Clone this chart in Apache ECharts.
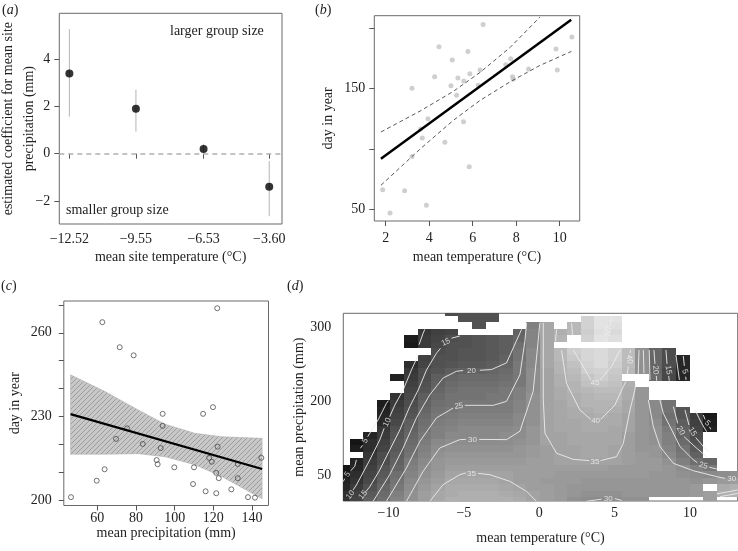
<!DOCTYPE html>
<html><head><meta charset="utf-8">
<script src="https://cdn.jsdelivr.net/npm/echarts@6/dist/echarts.min.js"></script>
<style>html,body{margin:0;padding:0;background:#fff}#c{width:738px;height:551px}</style>
</head><body><div id="c"></div><script>
// ---------- panel (a) ----------
const aX = [-12.52, -9.55, -6.53, -3.60];
const aY = [3.4, 1.9, 0.2, -1.4];
const aLo = [1.57, 0.94, 0.0, -2.65];
const aHi = [5.28, 2.71, 0.42, -0.31];
const aYTicks = [-2, 0, 2, 4];
// ---------- panel (b) ----------
const bX = [6.48, 4.45, 5.78, 5.06, 4.25, 5.87, 6.34, 5.32, 5.59, 5.00, 3.21, 5.26, 6.25, 7.52, 7.75, 8.57, 7.83, 7.87, 9.83, 10.56, 9.89, 3.94, 3.61, 3.68, 5.58, 4.72, 3.21, 5.84, 1.86, 2.87, 3.87, 2.20];
const bY = [203.5, 185, 181, 174, 160, 162.5, 165.5, 159, 156.5, 152.5, 150.5, 144.5, 153, 170, 175, 166.5, 160, 158, 183, 193, 165.5, 125, 116.5, 109, 122.5, 105.5, 93.5, 85, 66, 65, 53, 46.5];
const bFitX = [1.78, 10.53];
const bFitY = [91.8, 207.4];
const bUpX = [1.78, 3.58, 5.11, 6.34, 7.72, 9.09];
const bUpY = [114.0, 131.4, 147.8, 163.6, 184.4, 209.6];
const bLoX = [1.78, 3.58, 5.11, 6.34, 7.72, 9.09, 10.54];
const bLoY = [69.6, 99.8, 123.7, 140.3, 155.8, 169.4, 181.1];
const bXTicks = [2, 4, 6, 8, 10];
const bYTicks = [50, 100, 150, 200];
const bYLabels = [50, 150];
// ---------- panel (c) ----------
const cX = [46.4, 62.6, 71.6, 78.8, 59.7, 63.8, 69.7, 75.4, 83.5, 93.8, 93.8, 92.8, 90.7, 91.2, 99.8, 110.0, 109.5, 116.0, 114.7, 119.8, 122.0, 122.2, 117.8, 119.2, 121.5, 122.8, 121.5, 129.3, 132.6, 132.6, 137.9, 141.5, 144.8];
const cY = [201.0, 263.8, 254.8, 251.9, 206.9, 211.0, 221.9, 225.7, 220.1, 230.9, 226.6, 218.6, 214.3, 212.8, 211.7, 211.7, 205.7, 203.1, 230.9, 233.3, 268.8, 219.1, 215.1, 213.7, 209.7, 207.8, 202.4, 203.8, 207.8, 212.9, 201.0, 200.8, 215.1];
const cFitX = [46.2, 145.2];
const cFitY = [230.8, 211.1];
const cBandX = [46.2, 64.0, 81.2, 95.0, 110.5, 124.3, 145.2];
const cBandHi = [244.9, 238.9, 232.3, 227.2, 223.9, 222.7, 222.1];
const cBandLo = [216.4, 216.4, 216.6, 215.5, 212.6, 208.4, 200.4];
const cXTicks = [60, 80, 100, 120, 140];
const cYTicks = [200, 210, 220, 230, 240, 250, 260, 270];
const cYLabels = [200, 230, 260];
// ---------- panel (d) ----------
const dTemps = [-13.02, -12.12, -11.22, -10.32, -9.42, -8.51, -7.61, -6.71, -5.81, -4.91, -4.00, -3.10, -2.20, -1.30, -0.40, 0.51, 1.41, 2.31, 3.21, 4.11, 5.02, 5.92, 6.82, 7.72, 8.62, 9.53, 10.43, 11.33, 12.23, 13.13];
// row centres (precipitation axis position), bottom to top
const dPrecipPos = [-1.00, -0.74, -0.47, -0.21, 0.05, 0.31, 0.57, 0.84, 1.10, 1.36, 1.62, 1.88, 2.15, 2.41, 2.67, 2.93, 3.20, 3.46, 3.72, 3.98, 4.24, 4.51, 4.77, 5.03, 5.29, 5.55, 5.82, 6.08, 6.34, 6.60];
// predicted values per cell, rows from top to bottom; "--" = no data
const dRows = [
"-- -- -- -- -- -- -- -- 15 16 16 16 -- -- -- -- -- -- -- -- -- -- -- -- -- -- -- -- -- --",
"-- -- -- -- -- -- -- -- -- 16 16 16 -- -- -- -- -- -- 46 50 50 -- -- -- -- -- -- -- -- --",
"-- -- -- -- -- -- -- -- -- -- 16 -- -- -- 27 36 -- 40 46 50 49 -- -- -- -- -- -- -- -- --",
"-- -- -- -- -- -- 10 12 13 -- -- -- -- 20 28 36 38 40 45 49 48 -- -- -- -- -- -- -- -- --",
"-- -- -- -- -- 4 11 13 15 16 17 18 19 21 28 36 39 -- 46 50 49 -- -- -- -- -- -- -- -- --",
"-- -- -- -- -- 3 11 14 16 16 17 18 19 23 28 36 -- -- -- -- -- -- -- -- -- -- -- -- -- --",
"-- -- -- -- -- -- -- 15 16 17 17 18 19 24 29 36 40 45 47 48 46 41 31 21 15 -- -- -- -- --",
"-- -- -- -- -- -- 12 16 16 17 17 18 20 24 29 36 40 44 47 48 46 41 31 21 15 6 -- -- -- --",
"-- -- -- -- -- 8 13 16 17 18 18 19 21 25 29 36 39 42 46 48 45 41 31 21 15 6 -- -- -- --",
"-- -- -- -- -- 10 15 17 19 20 20 21 22 25 30 35 39 41 45 46 44 40 31 21 14 6 -- -- -- --",
"-- -- -- -- 5 11 15 19 21 22 22 22 23 25 30 35 38 40 43 45 43 -- -- 22 14 6 -- -- -- --",
"-- -- -- -- -- 12 16 20 22 23 23 23 24 25 30 35 38 39 42 43 42 38 -- -- -- -- -- -- -- --",
"-- -- -- -- -- 13 17 21 23 24 24 24 25 27 30 35 37 39 40 41 41 37 32 -- -- -- -- -- -- --",
"-- -- -- -- 9 14 19 22 24 24 24 25 25 27 31 35 37 38 39 40 40 37 32 -- -- -- -- -- -- --",
"-- -- -- 4 11 15 20 23 24 25 25 25 26 28 31 35 36 38 39 39 39 36 32 29 24 -- -- -- -- --",
"-- -- -- 5 12 16 21 24 25 26 26 26 26 28 31 35 36 37 38 39 38 36 32 29 24 17 -- -- -- --",
"-- -- -- 6 13 17 22 25 26 27 27 27 27 29 31 35 36 37 37 38 37 35 32 29 23 17 11 3 -- --",
"-- -- -- 7 14 19 23 26 27 28 28 28 28 29 31 35 36 36 37 37 37 35 32 30 24 19 12 4 -- --",
"-- -- -- 10 16 20 24 27 28 29 29 29 29 30 32 35 36 36 37 37 36 35 32 31 26 20 13 5 -- --",
"-- -- 6 11 17 21 25 27 29 29 29 29 30 30 32 35 35 36 36 36 36 34 32 31 27 21 15 -- -- --",
"-- 2 8 12 18 22 26 29 30 30 30 30 30 31 32 35 35 36 36 36 36 34 32 31 27 22 16 -- -- --",
"-- 4 8 13 18 23 27 30 31 31 31 31 31 32 33 34 35 35 36 36 35 34 32 32 28 24 18 -- -- --",
"-- -- 10 15 19 24 28 31 32 32 32 32 32 32 33 34 35 35 36 36 35 34 33 32 29 25 20 -- -- --",
"-- 5 11 15 20 26 29 32 33 33 33 33 33 33 34 34 35 35 35 35 35 34 33 33 31 27 23 21 -- --",
"2 6 12 17 21 27 30 32 34 34 34 34 34 34 34 34 34 34 34 34 33 33 33 33 32 30 27 25 -- --",
"4 8 13 18 23 28 31 33 35 35 35 35 35 34 34 34 33 33 33 33 33 33 33 32 32 31 30 29 30 31",
"5 9 14 19 24 29 32 34 36 36 36 36 35 34 34 33 33 33 32 32 32 32 32 32 32 32 31 32 33 34",
"6 11 16 21 25 30 33 35 37 37 37 37 36 35 34 34 33 32 32 32 32 32 32 32 32 32 33 -- 37 38",
"8 12 18 22 27 31 34 36 37 38 38 38 37 36 35 34 33 32 31 31 31 32 32 32 32 32 33 34 38 39",
"9 13 19 23 28 31 34 36 38 38 38 38 38 37 35 34 33 31 30 29 30 31 31 -- -- -- -- 34 -- --"
];
const dXTicks = [-10, -5, 0, 5, 10];
const dYTickPos = [0, 1, 2, 3, 4, 5, 6];
const dYLabelPos = [0, 3, 6];
const dYLabelText = ['50', '200', '300'];
// contour line pieces [temperature, precipitation position]
const dContours = [
 [[-13.01,-0.24],[-12.90,-0.12]],
 [[-12.50,0.20],[-12.24,0.38],[-12.13,0.64]],
 [[-11.86,1.11],[-11.73,1.23]],
 [[-11.38,1.58],[-11.24,1.72],[-10.69,2.26],[-10.14,2.93],[-10.00,3.04]],
 [[-12.35,-0.58],[-12.13,-0.38],[-11.24,0.64],[-10.58,1.45],[-10.29,1.92]],
 [[-9.92,2.39],[-9.58,2.86],[-9.03,3.47],[-8.48,4.28],[-8.03,4.89]],
 [[-7.97,5.31],[-7.70,5.78],[-7.59,5.93]],
 [[-11.51,-0.65],[-11.24,-0.45],[-10.58,0.23],[-9.92,1.04],[-9.25,1.85],[-8.59,2.80],[-8.03,3.47],[-7.48,4.28],[-6.82,4.96],[-6.55,5.16]],
 [[-5.82,5.57],[-5.27,5.66]],
 [[-11.02,-1.04],[-9.92,0.04],[-9.03,1.12],[-8.15,2.34],[-7.26,3.28],[-6.37,3.96],[-5.49,4.23],[-5.05,4.26]],
 [[-3.94,4.27],[-3.17,4.30],[-2.17,4.57],[-1.28,5.78],[-1.17,5.93]],
 [[-10.14,-1.04],[-8.81,0.31],[-7.92,1.39],[-6.82,2.34],[-5.71,2.74]],
 [[-4.94,2.85],[-3.05,2.85],[-2.17,3.01],[-1.28,4.09],[-0.95,5.45],[-0.84,6.19]],
 [[-8.81,-1.04],[-7.70,0.18],[-6.60,1.12],[-5.27,1.46],[-4.87,1.47]],
 [[-3.98,1.47],[-2.17,1.46],[-1.28,1.80],[-0.40,3.42],[-0.07,5.45],[0.04,6.19]],
 [[-7.26,-1.04],[-6.37,-0.36],[-5.27,0.04],[-4.87,0.11]],
 [[-4.05,0.09],[-3.28,0.04],[-1.95,-0.23],[-0.84,-0.64],[-0.18,-1.04]],
 [[0.27,6.19],[0.27,3.07],[0.38,1.72],[1.15,0.91],[2.26,0.66],[3.32,0.61]],
 [[4.07,0.61],[5.13,0.77],[5.58,1.31],[6.02,2.66],[6.35,3.47],[6.40,3.72]],
 [[6.57,4.12],[6.62,5.09]],
 [[1.48,5.09],[1.81,3.74],[2.70,2.66],[3.43,2.28]],
 [[4.07,2.28],[5.02,2.86],[5.58,3.61],[5.75,3.82]],
 [[5.84,4.12],[5.91,4.42]],
 [[6.02,4.96],[6.06,5.09]],
 [[2.26,5.09],[2.92,4.42],[3.43,3.88]],
 [[4.03,3.88],[4.80,4.42],[5.36,5.09]],
 [[1.15,5.92],[1.08,5.45]],
 [[2.15,6.18],[2.21,5.70]],
 [[4.80,6.45],[4.69,6.04]],
 [[4.47,5.61],[4.43,5.45]],
 [[6.91,5.09],[6.95,4.15]],
 [[7.30,5.09],[7.35,3.88]],
 [[7.61,5.09],[7.68,4.53]], [[7.77,4.04],[7.79,3.85]],
 [[8.41,5.09],[8.48,4.53]], [[8.59,4.04],[8.63,3.85]],
 [[9.07,4.89],[9.30,3.88]],
 [[9.56,4.85],[9.63,4.45]], [[9.72,4.01],[9.74,3.88]],
 [[7.24,3.07],[7.57,1.99],[8.01,1.18],[8.90,0.50],[10.23,0.20],[11.78,-0.04],[12.33,-0.11]],
 [[8.01,3.07],[8.23,2.53],[8.68,1.99],[9.34,1.18],[10.23,0.64],[10.49,0.53]],
 [[11.29,0.34],[11.78,0.27]],
 [[8.90,2.80],[9.19,2.12]], [[9.61,1.58],[10.45,1.11],[11.11,0.77]],
 [[9.67,2.66],[9.94,2.05]], [[10.38,1.55],[10.89,1.18],[11.22,0.97]],
 [[10.34,2.66],[10.78,2.12],[11.11,1.78]],
 [[10.89,2.46],[11.00,2.28]], [[11.30,1.98],[11.38,1.88]],
 [[11.78,-0.74],[13.17,-0.58]],
 [[12.00,-0.85],[13.17,-0.72]],
 [[3.14,-1.04],[4.14,-0.95]], [[5.02,-0.93],[5.47,-1.00]]
];
const dLabX = [-12.72, -12.53, -11.69, -11.55, -10.09, -6.20, -4.49, -5.33, -4.43, -4.49, 3.70, 3.74, 3.70, 4.58, 5.98, 7.72, 8.57, 9.67, 11.16, 10.16, 9.38, 10.89, 12.77, 4.58];
const dLabPos = [0.05, -0.78, -0.78, 1.42, 2.16, 5.41, 4.26, 2.82, 1.47, 0.09, 3.77, 2.23, 0.58, 5.84, 4.72, 4.28, 4.28, 4.22, 2.12, 1.78, 1.82, 0.41, -0.12, -0.95];
const dLabText = ['5','10','15','5','10','15','20','25','30','35','45','40','35','50','40','20','15','5','5','15','20','25','30','30'];
const dLabRot = [55, 50, 50, 60, 65, 25, 0, 5, 0, 0, 0, 0, 0, 75, -85, -85, -80, -70, -45, -60, -60, -15, 0, 0];

// ---------- build ----------
const FONT = 'Liberation Serif';
const minus = v => (v < 0 ? '\u2212' + Math.abs(v) : String(v));
function edges(c) {
  const e = [c[0] - (c[1] - c[0]) / 2];
  for (let i = 1; i < c.length; i++) e.push((c[i - 1] + c[i]) / 2);
  e.push(c[c.length - 1] + (c[c.length - 1] - c[c.length - 2]) / 2);
  return e;
}
const xE = edges(dTemps), yE = edges(dPrecipPos);
const dHeat = [];
dRows.forEach((row, r) => {
  const i = dRows.length - 1 - r;
  row.trim().split(/\s+/).slice(0, dTemps.length).forEach((t, k) => {
    if (t !== '--') dHeat.push([dTemps[k], dPrecipPos[i], +t, k, i]);
  });
});

function hatch() {
  const c = document.createElement('canvas'); c.width = c.height = 5;
  const g = c.getContext('2d');
  g.fillStyle = '#c8c8c8'; g.fillRect(0, 0, 5, 5);
  g.strokeStyle = '#9d9d9d'; g.lineWidth = 1;
  g.beginPath();
  g.moveTo(0, 5); g.lineTo(5, 0);
  g.moveTo(-2.5, 2.5); g.lineTo(2.5, -2.5);
  g.moveTo(2.5, 7.5); g.lineTo(7.5, 2.5);
  g.stroke();
  return c;
}
const PATTERN = { image: hatch(), repeat: 'repeat' };

function axis(o) {
  const base = {
    type: 'value', nameLocation: 'middle', nameMoveOverlap: false,
    axisLine: { show: false }, splitLine: { show: false },
    axisTick: { show: true, length: 5, lineStyle: { color: '#555' } },
    axisLabel: { color: '#222', fontFamily: FONT, fontSize: 14 },
    nameTextStyle: { color: '#222', fontFamily: FONT, fontSize: 14 }
  };
  const r = Object.assign({}, base, o);
  r.axisTick = Object.assign({}, base.axisTick, o.axisTick || {});
  r.axisLabel = Object.assign({}, base.axisLabel, o.axisLabel || {});
  r.nameTextStyle = Object.assign({}, base.nameTextStyle, o.nameTextStyle || {});
  return r;
}
const box = { show: true, borderColor: '#6a6a6a', borderWidth: 1, backgroundColor: 'transparent', containLabel: false, outerBoundsMode: 'none' };
const rich = ch => ({ text: '{p|(}{i|' + ch + '}{p|)}', rich: { p: { fontFamily: FONT, fontSize: 14, fill: '#222' }, i: { fontFamily: FONT, fontSize: 14, fontStyle: 'italic', fill: '#222' } } });

const option = {
  animation: false,
  backgroundColor: '#fff',
  grid: [
    Object.assign({ left: 59.3, top: 13.3, width: 222.7, height: 210.7 }, box),
    Object.assign({ left: 374.3, top: 15.7, width: 205.4, height: 205.3 }, box),
    Object.assign({ left: 63.8, top: 301, width: 204.7, height: 204.5 }, box),
    Object.assign({ left: 343.3, top: 313.3, width: 394.4, height: 187.7 }, box)
  ],
  xAxis: [
    axis({ gridIndex: 0, min: -12.97, max: -3.03, name: 'mean site temperature (°C)', nameGap: 26,
      axisTick: { customValues: aX }, axisLabel: { customValues: aX, margin: 8, formatter: v => '\u2212' + Math.abs(v).toFixed(2) } }),
    axis({ gridIndex: 1, min: 1.476, max: 10.92, name: 'mean temperature (°C)', nameGap: 29,
      axisTick: { customValues: bXTicks }, axisLabel: { customValues: bXTicks, margin: 10 } }),
    axis({ gridIndex: 2, min: 42.7, max: 148.5, name: 'mean precipitation (mm)', nameGap: 21,
      axisTick: { customValues: cXTicks }, axisLabel: { customValues: cXTicks, margin: 6 } }),
    axis({ gridIndex: 3, min: -13.0, max: 13.17, name: 'mean temperature (°C)', nameGap: 30,
      axisTick: { customValues: dXTicks }, axisLabel: { customValues: dXTicks, margin: 5, formatter: minus } })
  ],
  yAxis: [
    axis({ gridIndex: 0, min: -2.98, max: 5.95, name: 'estimated coefficient for mean site\nprecipitation (mm)', nameGap: 19,
      nameTextStyle: { lineHeight: 21 },
      axisTick: { customValues: aYTicks }, axisLabel: { customValues: aYTicks, margin: 9, formatter: minus } }),
    axis({ gridIndex: 1, min: 39.9, max: 210.8, name: 'day in year', nameGap: 39,
      axisTick: { customValues: bYTicks }, axisLabel: { customValues: bYLabels, margin: 9 } }),
    axis({ gridIndex: 2, min: 198.0, max: 271.4, name: 'day in year', nameGap: 41,
      axisTick: { customValues: cYTicks }, axisLabel: { customValues: cYLabels, margin: 12 } }),
    axis({ gridIndex: 3, min: -1.027, max: 6.58, name: 'mean precipitation (mm)', nameGap: 37,
      axisTick: { customValues: dYTickPos },
      axisLabel: { customValues: dYLabelPos, margin: 12, formatter: v => dYLabelText[dYLabelPos.indexOf(Math.round(v))] } })
  ],
  series: [
    { type: 'custom', xAxisIndex: 0, yAxisIndex: 0, silent: true,
      data: aX.map((x, i) => [x, aLo[i], aHi[i]]), encode: { x: 0, y: [1, 2] },
      renderItem: (p, api) => {
        const a = api.coord([api.value(0), api.value(1)]), b = api.coord([api.value(0), api.value(2)]);
        return { type: 'line', shape: { x1: a[0], y1: a[1], x2: b[0], y2: b[1] }, style: { stroke: '#b4b4b4', lineWidth: 1 } };
      } },
    { type: 'scatter', xAxisIndex: 0, yAxisIndex: 0, symbolSize: 8, itemStyle: { color: '#000' },
      data: aX.map((x, i) => [x, aY[i]]), z: 3,
      markLine: { silent: true, symbol: ['none', 'none'], label: { show: false },
        lineStyle: { type: [5, 4], color: '#b0b0b0', width: 1.5 }, data: [{ yAxis: 0 }] } },
    { type: 'scatter', xAxisIndex: 1, yAxisIndex: 1, symbolSize: 5, itemStyle: { color: '#c3c3c3' },
      data: bX.map((x, i) => [x, bY[i]]) },
    { type: 'line', xAxisIndex: 1, yAxisIndex: 1, symbol: 'none', lineStyle: { color: '#000', width: 2.5 },
      data: bFitX.map((x, i) => [x, bFitY[i]]), z: 4 },
    { type: 'line', xAxisIndex: 1, yAxisIndex: 1, symbol: 'none', lineStyle: { color: '#444', width: 0.9, type: [4, 3] },
      data: bUpX.map((x, i) => [x, bUpY[i]]), z: 3 },
    { type: 'line', xAxisIndex: 1, yAxisIndex: 1, symbol: 'none', lineStyle: { color: '#444', width: 0.9, type: [4, 3] },
      data: bLoX.map((x, i) => [x, bLoY[i]]), z: 3 },
    { type: 'custom', xAxisIndex: 2, yAxisIndex: 2, silent: true, z: 1,
      data: [[cBandX[0], cBandLo[0]]], encode: { x: 0, y: 1 },
      renderItem: (p, api) => {
        const pts = [];
        cBandX.forEach((x, i) => pts.push(api.coord([x, cBandHi[i]])));
        for (let i = cBandX.length - 1; i >= 0; i--) pts.push(api.coord([cBandX[i], cBandLo[i]]));
        return { type: 'polygon', shape: { points: pts }, style: { fill: PATTERN, stroke: '#aaa', lineWidth: 0.5 } };
      } },
    { type: 'scatter', xAxisIndex: 2, yAxisIndex: 2, symbol: 'circle', symbolSize: 5, z: 3,
      itemStyle: { color: 'rgba(255,255,255,0)', borderColor: '#3c3c3c', borderWidth: 0.9 },
      data: cX.map((x, i) => [x, cY[i]]) },
    { type: 'line', xAxisIndex: 2, yAxisIndex: 2, symbol: 'none', z: 4, lineStyle: { color: '#000', width: 2.2 },
      data: cFitX.map((x, i) => [x, cFitY[i]]) },
    { type: 'custom', xAxisIndex: 3, yAxisIndex: 3, silent: true, z: 1,
      data: dHeat, encode: { x: 0, y: 1 },
      renderItem: (p, api) => {
        const k = api.value(3), i = api.value(4), v = api.value(2);
        const a = api.coord([xE[k], yE[i + 1]]), b = api.coord([xE[k + 1], yE[i]]);
        const cs = p.coordSys;
        const x0 = Math.round(Math.max(Math.min(a[0], b[0]), cs.x));
        const x1 = Math.round(Math.min(Math.max(a[0], b[0]), cs.x + cs.width));
        const y0 = Math.round(Math.max(Math.min(a[1], b[1]), cs.y));
        const y1 = Math.round(Math.min(Math.max(a[1], b[1]), cs.y + cs.height));
        const g = Math.max(0, Math.min(255, Math.round(12 + 4.3 * v)));
        return { type: 'rect', shape: { x: x0, y: y0, width: x1 - x0, height: y1 - y0 },
          style: { fill: 'rgb(' + g + ',' + g + ',' + g + ')' } };
      } }
  ].concat(dContours.map(seg => ({
    type: 'line', xAxisIndex: 3, yAxisIndex: 3, symbol: 'none', silent: true, z: 3,
    lineStyle: { color: '#ececec', width: 0.9 }, data: seg
  }))).concat([
    { type: 'scatter', xAxisIndex: 3, yAxisIndex: 3, symbolSize: 0, silent: true, z: 4,
      label: { show: true, position: 'inside', color: '#f4f4f4', fontSize: 8, fontFamily: 'Liberation Sans' },
      data: dLabX.map((x, i) => ({ value: [x, dLabPos[i]], label: { formatter: dLabText[i], rotate: dLabRot[i] } })) }
  ]),
  graphic: [
    { type: 'text', left: 2, top: 3, style: rich('a') },
    { type: 'text', left: 315, top: 3, style: rich('b') },
    { type: 'text', left: 1, top: 279, style: rich('c') },
    { type: 'text', left: 287, top: 279, style: rich('d') },
    { type: 'text', left: 170, top: 24, style: { text: 'larger group size', fontFamily: FONT, fontSize: 14, fill: '#222' } },
    { type: 'text', left: 66, top: 203, style: { text: 'smaller group size', fontFamily: FONT, fontSize: 14, fill: '#222' } }
  ]
};
const chart = echarts.init(document.getElementById('c'), null, { renderer: 'canvas' });
chart.setOption(option);
</script></body></html>
